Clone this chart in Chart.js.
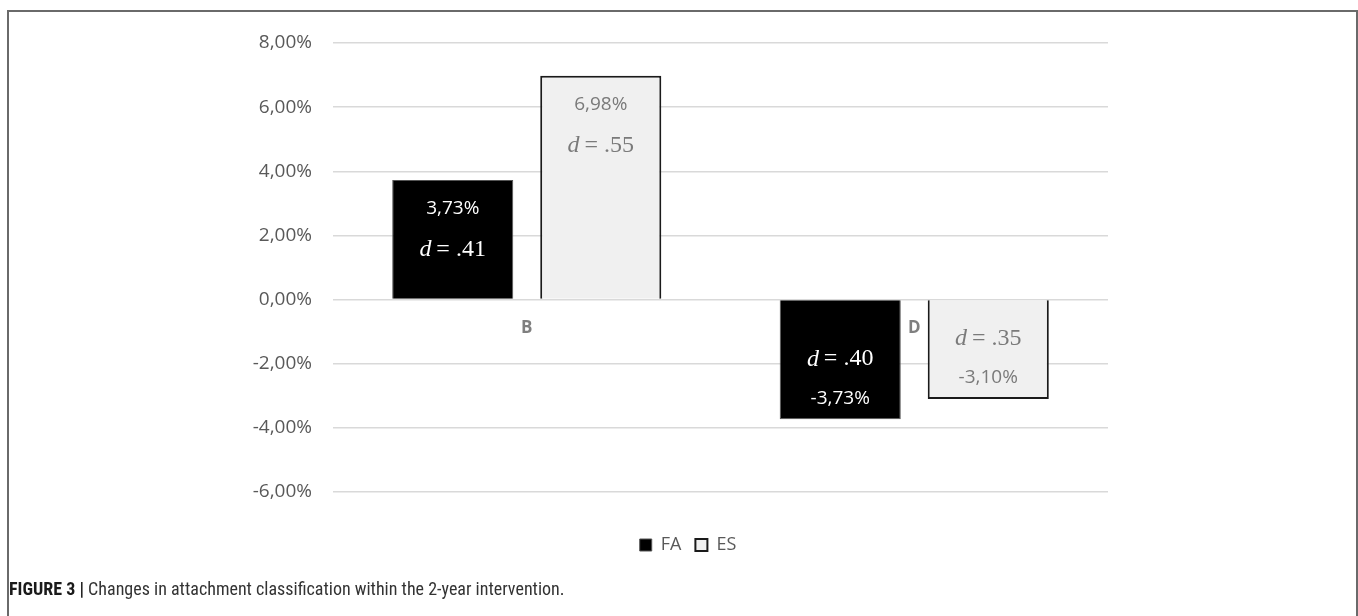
<!DOCTYPE html>
<html>
<head>
<meta charset="utf-8">
<script src="https://cdn.jsdelivr.net/npm/chart.js@4/dist/chart.umd.min.js"></script>
<style>
	html, body { margin: 0; padding: 0; background: #fff; }
	#wrap { position: relative; width: 1358px; height: 616px; overflow: hidden; }
	#box { position: absolute; left: 0; top: 0; width: 1358px; height: 616px; }
	#frame {
		position: absolute; left: 7px; top: 10px; width: 1347px; height: 620px;
		border: 2px solid #6a6a6a; border-bottom: none; pointer-events: none;
	}
	#caption {
		position: absolute; left: 9px; top: 578px;
		font-family: "Liberation Sans Narrow", "Roboto Condensed", "Liberation Sans", sans-serif;
		font-size: 18px; color: #333; white-space: nowrap;
	}
	#caption b { color: #1a1a1a; }
</style>
</head>
<body>
<div id="wrap">
	<div id="box"><canvas id="barChart"></canvas></div>
	<div id="frame"></div>
	<div id="caption"><b>FIGURE 3 |</b> Changes in attachment classification within the 2-year intervention.</div>
</div>
<script>
const categories = ['B', 'D'];
const faValues = [3.73, -3.73];
const esValues = [6.98, -3.10];
const faEffect = ['.41', '.40'];
const esEffect = ['.55', '.35'];
const yTicks = [-6, -4, -2, 0, 2, 4, 6, 8];

const pctText = (v) => v.toFixed(2).replace('.', ',') + '%';

// labels inside the bars: percentage + Cohen's d
const barLabels = {
	id: 'barLabels',
	afterDatasetsDraw(chart) {
		const ctx = chart.ctx;
		chart.data.datasets.forEach((ds, i) => {
			const meta = chart.getDatasetMeta(i);
			meta.data.forEach((bar, j) => {
				const v = ds.data[j];
				const x = bar.x;
				let yPct, yD;
				if (v >= 0) {
					yPct = bar.y + 29;
					yD = bar.y + 70;
				} else {
					yD = bar.y - 60;
					yPct = bar.y - 21;
				}
				ctx.save();
				ctx.fillStyle = ds.labelColor;
				ctx.textAlign = 'center';
				ctx.textBaseline = 'middle';
				ctx.font = '19px "Open Sans", sans-serif';
				ctx.fillText(pctText(v), x, yPct);

				// d = .xx  (italic d, serif)
				const dPart = 'd';
				const rest = '\u2009= ' + ds.effect[j];
				ctx.font = 'italic 24px "Liberation Serif", serif';
				const w1 = ctx.measureText(dPart).width;
				ctx.font = '24px "Liberation Serif", serif';
				const w2 = ctx.measureText(rest).width;
				const x0 = x - (w1 + w2) / 2;
				ctx.textAlign = 'left';
				ctx.font = 'italic 24px "Liberation Serif", serif';
				ctx.fillText(dPart, x0, yD);
				ctx.font = '24px "Liberation Serif", serif';
				ctx.fillText(rest, x0 + w1, yD);
				ctx.restore();
			});
		});
	}
};

const barData = {
	labels: categories,
	datasets: [
		{
			label: 'FA',
			data: faValues,
			effect: faEffect,
			labelColor: '#ffffff',
			backgroundColor: '#000000',
			borderColor: '#555555',
			borderWidth: 1
		},
		{
			label: 'ES',
			data: esValues,
			effect: esEffect,
			labelColor: '#7a7a7a',
			backgroundColor: '#f0f0f0',
			borderColor: '#1a1a1a',
			borderWidth: 2
		}
	]
};

new Chart('barChart', {
	type: 'bar',
	data: barData,
	plugins: [barLabels],
	options: {
		responsive: true,
		maintainAspectRatio: false,
		animation: false,
		categoryPercentage: 0.764,
		barPercentage: 0.818,
		layout: { padding: { left: 18, right: 0, top: 43, bottom: 52 } },
		scales: {
			x: {
				position: { y: 0 },
				grid: { display: false, drawTicks: false },
				border: { display: false },
				ticks: {
					padding: 18,
					color: '#7f7f7f',
					font: { family: '"Open Sans", sans-serif', size: 17, weight: 'bold' }
				}
			},
			y: {
				min: -6,
				max: 8,
				afterFit: (s) => { s.width = 315; },
				afterBuildTicks: (s) => { s.ticks = yTicks.map(v => ({ value: v })); },
				grid: { color: '#d9d9d9', lineWidth: 1.5, drawTicks: false },
				border: { display: false },
				ticks: {
					padding: 21,
					color: '#595959',
					font: { family: '"Open Sans", sans-serif', size: 19 },
					callback: (v) => pctText(v)
				}
			},
			// empty right-hand space, same as the original figure
			yRight: {
				position: 'right',
				min: -6,
				max: 8,
				afterFit: (s) => { s.width = 250; },
				grid: { display: false, drawTicks: false },
				border: { display: false },
				ticks: { display: false }
			}
		},
		plugins: {
			tooltip: { enabled: false },
			legend: {
				position: 'bottom',
				title: { display: true, text: '', font: { size: 10 }, padding: { top: 18, bottom: 0 } },
				labels: {
					boxWidth: 12,
					boxHeight: 12,
					padding: 14,
					color: '#595959',
					font: { family: '"Open Sans", sans-serif', size: 18 }
				}
			}
		}
	}
});
</script>
</body>
</html>
